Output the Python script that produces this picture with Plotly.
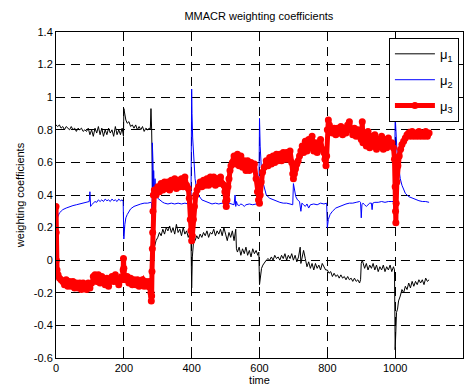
import plotly.graph_objects as go

# ---------------- data ----------------
t1 = [0,5,10,15,20,25,30,35,40,45,50,55,60,65,70,75,80,85,90,95,100,105,110,115,120,125,130,135,140,145,150,155,160,165,170,175,180,185,190,195,199,
      200,203,206,210,215,220,225,230,235,240,245,250,255,260,265,270,275,278,280,282,283,284,285,286,288,290,295,300,305,310,315,320,325,330,335,340,345,350,355,360,365,370,375,380,385,390,395,398,
      400,402,405,410,415,420,425,430,435,440,445,450,455,460,465,470,475,480,485,490,495,500,505,510,515,520,525,530,532,535,540,545,550,555,560,565,570,575,580,585,590,595,598,
      600,603,606,610,615,620,625,630,635,640,645,650,655,660,665,670,675,680,685,690,695,700,705,710,715,720,722,725,730,735,740,745,750,755,760,765,770,775,780,785,790,795,
      800,805,810,815,820,825,830,835,840,845,850,855,860,865,870,875,880,885,890,895,898,900,903,906,910,915,920,925,930,935,940,945,950,955,960,965,970,975,980,985,990,995,998,
      1000,1002,1004,1007,1010,1015,1020,1025,1030,1035,1040,1045,1050,1055,1060,1065,1070,1075,1080,1085,1090,1095,1100]
mu1 = [0.83,0.82,0.83,0.81,0.82,0.80,0.82,0.81,0.80,0.82,0.80,0.81,0.79,0.81,0.80,0.81,0.79,0.80,0.79,0.81,0.77,0.80,0.76,0.81,0.78,0.82,0.77,0.81,0.76,0.80,0.77,0.81,0.78,0.80,0.76,0.82,0.77,0.80,0.77,0.81,0.76,
       0.93,0.88,0.86,0.84,0.85,0.82,0.83,0.81,0.83,0.80,0.82,0.80,0.82,0.79,0.81,0.80,0.81,0.80,0.93,0.80,0.72,0.55,0.30,0.05,0.00,0.08,0.12,0.14,0.17,0.15,0.19,0.16,0.20,0.18,0.21,0.17,0.20,0.16,0.22,0.17,0.19,0.15,0.20,0.16,0.18,0.14,0.17,0.13,
       -0.17,0.02,0.10,0.12,0.15,0.13,0.16,0.14,0.17,0.15,0.18,0.14,0.17,0.16,0.19,0.15,0.18,0.16,0.19,0.15,0.20,0.16,0.12,0.17,0.14,0.18,0.12,0.19,0.07,0.05,0.08,0.03,0.07,0.04,0.08,0.03,0.06,0.02,0.07,0.04,0.06,0.03,0.05,
       -0.15,-0.08,-0.05,-0.03,-0.01,0.00,0.01,0.00,0.02,0.00,0.03,0.01,0.02,0.00,0.03,0.01,0.04,0.00,0.03,0.01,0.04,0.00,0.03,-0.01,0.02,0.08,-0.02,0.02,0.06,0.01,-0.04,-0.01,-0.05,-0.02,-0.06,-0.02,-0.05,-0.03,-0.06,-0.02,-0.04,-0.06,
       -0.06,-0.08,-0.07,-0.10,-0.08,-0.10,-0.09,-0.11,-0.09,-0.11,-0.10,-0.12,-0.10,-0.12,-0.11,-0.13,-0.11,-0.13,-0.12,-0.14,-0.12,-0.02,0.00,-0.03,-0.05,-0.02,-0.06,-0.03,-0.05,-0.02,-0.06,-0.03,-0.07,-0.04,-0.06,-0.03,-0.07,-0.04,-0.06,-0.03,-0.07,-0.04,-0.06,
       -0.55,-0.40,-0.32,-0.30,-0.25,-0.22,-0.18,-0.20,-0.16,-0.18,-0.14,-0.17,-0.13,-0.16,-0.13,-0.15,-0.12,-0.14,-0.12,-0.15,-0.11,-0.13,-0.12]

t2 = [0,1,3,6,10,15,20,30,40,50,60,70,80,90,98,100,102,105,110,115,120,125,130,135,140,145,150,155,160,165,170,175,180,185,190,195,198,
      200,203,206,210,215,220,230,240,250,260,270,280,282,283,284,285,286,287,288,290,292,294,296,300,305,310,315,320,330,340,350,360,370,380,390,398,
      400,401,403,406,410,415,420,430,440,450,460,470,480,490,500,505,510,520,525,528,530,532,535,540,545,550,555,560,570,580,590,598,
      600,602,605,610,615,620,630,640,650,660,670,680,690,698,700,703,707,712,718,722,725,730,735,740,745,750,760,770,780,790,798,
      800,803,808,815,825,835,845,855,865,875,885,895,898,900,902,905,910,915,920,925,930,932,934,940,950,960,970,980,990,998,
      1000,1002,1005,1010,1015,1020,1030,1040,1050,1060,1070,1080,1090,1100]
mu2 = [0.20,0.22,0.25,0.27,0.29,0.30,0.31,0.32,0.33,0.335,0.34,0.345,0.35,0.355,0.36,0.42,0.33,0.34,0.35,0.36,0.355,0.37,0.36,0.37,0.36,0.375,0.365,0.37,0.36,0.375,0.365,0.37,0.36,0.375,0.365,0.37,0.36,
       0.13,0.22,0.26,0.28,0.30,0.315,0.33,0.34,0.345,0.35,0.35,0.355,0.35,-0.03,0.72,0.30,0.60,0.45,0.55,0.42,0.50,0.40,0.44,0.38,0.37,0.36,0.355,0.35,0.345,0.35,0.345,0.35,0.345,0.35,0.345,0.35,
       1.05,0.90,0.75,0.60,0.50,0.43,0.40,0.37,0.36,0.35,0.345,0.35,0.345,0.35,0.345,0.34,0.35,0.345,0.34,0.40,0.33,0.36,0.34,0.335,0.345,0.34,0.33,0.34,0.345,0.34,0.345,0.34,
       0.87,0.70,0.58,0.48,0.43,0.40,0.38,0.37,0.36,0.355,0.35,0.35,0.345,0.34,0.47,0.42,0.39,0.37,0.36,0.30,0.35,0.34,0.33,0.345,0.32,0.34,0.345,0.34,0.35,0.345,0.35,
       0.20,0.25,0.28,0.30,0.32,0.33,0.34,0.345,0.35,0.35,0.355,0.36,0.355,0.26,0.34,0.35,0.34,0.33,0.34,0.35,0.35,0.31,0.35,0.355,0.355,0.36,0.355,0.36,0.36,0.36,
       0.89,0.80,0.68,0.58,0.50,0.46,0.41,0.39,0.38,0.37,0.365,0.36,0.36,0.355]

t3 = [0,0.5,1,3,6,10,15,20,25,30,35,40,45,50,55,60,65,70,75,80,85,90,95,100,105,110,115,120,125,130,135,140,145,150,155,160,165,170,175,180,185,190,195,198,199,
      200,202,205,210,215,220,225,230,235,240,245,250,255,260,265,270,275,278,280,281,282,283,284,285,286,287,290,295,300,305,310,315,320,325,330,335,340,345,350,355,360,365,370,375,380,385,390,393,396,398,
      400,402,405,408,412,416,420,425,430,435,440,445,450,455,460,465,470,475,480,485,490,495,498,500,502,504,507,510,513,516,520,525,530,535,540,545,550,555,560,565,570,575,580,585,590,594,597,
      600,602,605,609,614,620,625,630,635,640,645,650,655,660,665,670,675,680,685,690,695,698,700,703,706,710,714,718,722,726,730,735,740,745,750,755,760,765,770,775,780,785,790,793,796,798,
      800,803,806,810,815,820,825,830,835,840,845,850,855,860,865,870,875,880,885,890,895,900,903,905,910,915,920,925,930,935,940,945,950,955,960,965,970,975,980,985,990,995,998,
      1000,1001,1002,1003,1005,1008,1012,1016,1020,1025,1030,1035,1040,1045,1050,1055,1060,1065,1070,1075,1080,1085,1090,1095,1100]
mu3 = [0.33,0.17,0.00,-0.06,-0.09,-0.11,-0.12,-0.13,-0.15,-0.12,-0.16,-0.13,-0.16,-0.13,-0.17,-0.14,-0.17,-0.14,-0.18,-0.14,-0.17,-0.18,-0.14,-0.17,-0.14,-0.10,-0.09,-0.13,-0.09,-0.14,-0.10,-0.13,-0.15,-0.11,-0.16,-0.12,-0.10,-0.13,-0.09,-0.13,-0.15,-0.11,-0.12,-0.06,0.01,
       -0.05,-0.10,-0.12,-0.10,-0.14,-0.11,-0.15,-0.12,-0.15,-0.12,-0.16,-0.13,-0.12,-0.16,-0.13,-0.16,-0.13,-0.17,-0.20,-0.25,-0.22,-0.07,0.07,0.17,0.30,0.40,0.43,0.40,0.45,0.42,0.47,0.43,0.48,0.44,0.48,0.43,0.49,0.45,0.50,0.44,0.49,0.45,0.50,0.45,0.51,0.46,0.44,0.38,0.25,0.18,
       0.12,0.15,0.25,0.33,0.40,0.43,0.45,0.48,0.45,0.49,0.46,0.50,0.46,0.51,0.47,0.51,0.46,0.50,0.47,0.51,0.47,0.46,0.42,0.36,0.33,0.37,0.45,0.50,0.55,0.58,0.60,0.64,0.59,0.65,0.58,0.64,0.57,0.61,0.55,0.61,0.55,0.60,0.56,0.59,0.50,0.42,0.37,
       0.35,0.40,0.48,0.54,0.57,0.61,0.58,0.63,0.59,0.64,0.60,0.65,0.61,0.65,0.61,0.66,0.62,0.66,0.62,0.67,0.60,0.53,0.50,0.53,0.56,0.59,0.61,0.64,0.67,0.70,0.66,0.73,0.67,0.74,0.69,0.76,0.67,0.72,0.66,0.71,0.74,0.68,0.66,0.62,0.58,0.64,
       0.80,0.86,0.83,0.80,0.78,0.81,0.77,0.81,0.78,0.82,0.77,0.81,0.78,0.83,0.85,0.80,0.77,0.81,0.76,0.80,0.76,0.74,0.85,0.72,0.78,0.70,0.79,0.69,0.76,0.70,0.77,0.68,0.74,0.70,0.76,0.68,0.74,0.69,0.75,0.70,0.72,0.69,0.62,
       0.45,0.30,0.23,0.35,0.48,0.58,0.64,0.68,0.71,0.73,0.75,0.77,0.78,0.76,0.79,0.76,0.78,0.76,0.79,0.76,0.78,0.76,0.79,0.76,0.78]

xticks = [0, 200, 400, 600, 800, 1000, 1200]
xticklabels = ["0", "200", "400", "600", "800", "1000", "1200"]
yticks = [-0.6, -0.4, -0.2, 0, 0.2, 0.4, 0.6, 0.8, 1.0, 1.2, 1.4]
yticklabels = ["-0.6", "-0.4", "-0.2", "0", "0.2", "0.4", "0.6", "0.8", "1", "1.2", "1.4"]

FONT = "Liberation Sans, Arial, Helvetica, sans-serif"

fig = go.Figure()
fig.add_trace(go.Scatter(x=t1, y=mu1, mode="lines", name="μ<sub>1</sub>",
                         line=dict(color="#000000", width=1), legendgroup="a"))
fig.add_trace(go.Scatter(x=t2, y=mu2, mode="lines", name="μ<sub>2</sub>",
                         line=dict(color="#0000FF", width=1), legendgroup="b"))
fig.add_trace(go.Scatter(x=t3, y=mu3, mode="lines+markers", name="μ<sub>3</sub>",
                         line=dict(color="#FF0000", width=5),
                         marker=dict(color="#FF0000", size=7), legendgroup="c"))

axis_common = dict(showline=True, mirror="ticks", linecolor="#000000", linewidth=1,
                   ticks="inside", ticklen=4, tickcolor="#000000", automargin=False,
                   showgrid=True, gridcolor="#000000", gridwidth=1, griddash="9px,6px",
                   zeroline=False, tickfont=dict(family=FONT, size=11, color="#000000"))

fig.update_xaxes(range=[0, 1200], tickvals=xticks, ticktext=xticklabels,
                 title=dict(text="time", font=dict(family=FONT, size=11, color="#000000"), standoff=2),
                 **axis_common)
fig.update_yaxes(range=[-0.6, 1.4], tickvals=yticks, ticktext=yticklabels,
                 title=dict(text="weighting coefficients", font=dict(family=FONT, size=11, color="#000000"), standoff=6),
                 **axis_common)

fig.update_layout(
    width=475, height=392,
    margin=dict(l=56, r=12, t=32, b=34),
    paper_bgcolor="white", plot_bgcolor="white",
    title=dict(text="MMACR weighting coefficients", x=0.545, xanchor="center",
               y=1 - 16 / 392, yanchor="middle", yref="container",
               font=dict(family=FONT, size=11, color="#000000")),
    legend=dict(x=0.818, y=0.982, xanchor="left", yanchor="top",
                bordercolor="#000000", borderwidth=1, bgcolor="white",
                font=dict(family=FONT, size=13, color="#000000"),
                traceorder="grouped", tracegroupgap=6, itemwidth=40),
    showlegend=True,
)

fig.write_html("out.html")
